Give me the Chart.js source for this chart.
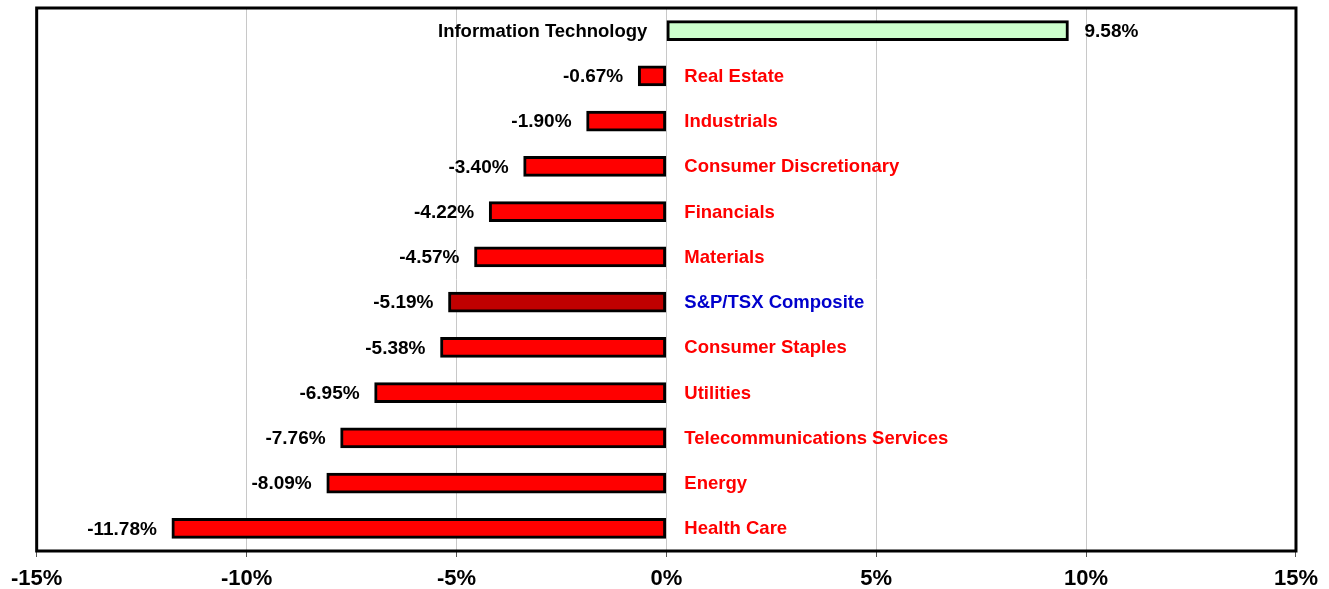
<!DOCTYPE html>
<html><head><meta charset="utf-8">
<style>html,body{margin:0;padding:0;background:#fff}#wrap{width:1329px;height:589px;position:relative}</style>
<script src="https://cdn.jsdelivr.net/npm/chart.js@4/dist/chart.umd.min.js"></script>
</head><body><div id="wrap"><canvas id="c" width="1329" height="589"></canvas></div>
<script>
const categories = ["Information Technology","Real Estate","Industrials","Consumer Discretionary","Financials","Materials","S&P/TSX Composite","Consumer Staples","Utilities","Telecommunications Services","Energy","Health Care"];
const returns = [9.58,-0.67,-1.90,-3.40,-4.22,-4.57,-5.19,-5.38,-6.95,-7.76,-8.09,-11.78];
const xTicks = [-15,-10,-5,0,5,10,15];

const barColors = categories.map((c,i)=> c==="S&P/TSX Composite" ? "#C00000" : (returns[i]>0 ? "#CCFFCC" : "#FF0000"));
const nameColors = categories.map((c,i)=> c==="S&P/TSX Composite" ? "#0000CC" : (returns[i]>0 ? "#000000" : "#FF0000"));

const labelPlugin = {
  id:'labels',
  afterDatasetsDraw(chart){
    const ctx = chart.ctx, meta = chart.getDatasetMeta(0), xs = chart.scales.x;
    const x0 = xs.getPixelForValue(0);
    ctx.save();
    ctx.textBaseline='middle';
    meta.data.forEach((bar,i)=>{
      const v = returns[i], y = bar.y;
      const end = xs.getPixelForValue(v);
      const valTxt = v.toFixed(2)+'%';
      ctx.font = 'bold 19px "Liberation Sans", Arial, sans-serif';
      ctx.fillStyle = '#000';
      if (v<0){ ctx.textAlign='right'; ctx.fillText(valTxt, end-15, y+1); }
      else { ctx.textAlign='left'; ctx.fillText(valTxt, end+16, y+1); }
      ctx.font = 'bold 18.5px "Liberation Sans", Arial, sans-serif';
      ctx.fillStyle = nameColors[i];
      if (v<0){ ctx.textAlign='left'; ctx.fillText(categories[i], x0+18, y+1); }
      else { ctx.textAlign='right'; ctx.fillText(categories[i], x0-19, y+1); }
    });
    ctx.restore();
  },
  afterDraw(chart){
    const a = chart.chartArea, ctx = chart.ctx;
    ctx.save();
    ctx.strokeStyle='#000'; ctx.lineWidth=3;
    ctx.strokeRect(a.left, a.top, a.right-a.left, a.bottom-a.top);
    ctx.restore();
  }
};

new Chart(document.getElementById('c'), {
  type:'bar',
  data:{ labels:categories, datasets:[{ data:returns, backgroundColor:barColors, borderColor:'#000', borderWidth:3, borderSkipped:false, barThickness:20 }]},
  options:{
    indexAxis:'y', responsive:false, animation:false,
    layout:{ padding:{ left:36, right:32, top:8, bottom:0 } },
    plugins:{ legend:{display:false}, tooltip:{enabled:false} },
    scales:{
      x:{ min:-15, max:15, afterBuildTicks(s){ s.ticks = xTicks.map(v=>({value:v})); },
        afterFit(s){ s.height = 38; },
        ticks:{ callback:v=>v+'%', color:'#000', font:{family:'"Liberation Sans", Arial, sans-serif', size:22, weight:'bold', lineHeight:1}, padding:11, maxRotation:0 },
        grid:{ color:'#c8c8c8', lineWidth:1, tickColor:'#555', tickLength:6, tickWidth:1 },
        border:{ display:false } },
      y:{ display:false, grid:{display:false} }
    }
  },
  plugins:[labelPlugin]
});
</script></body></html>
